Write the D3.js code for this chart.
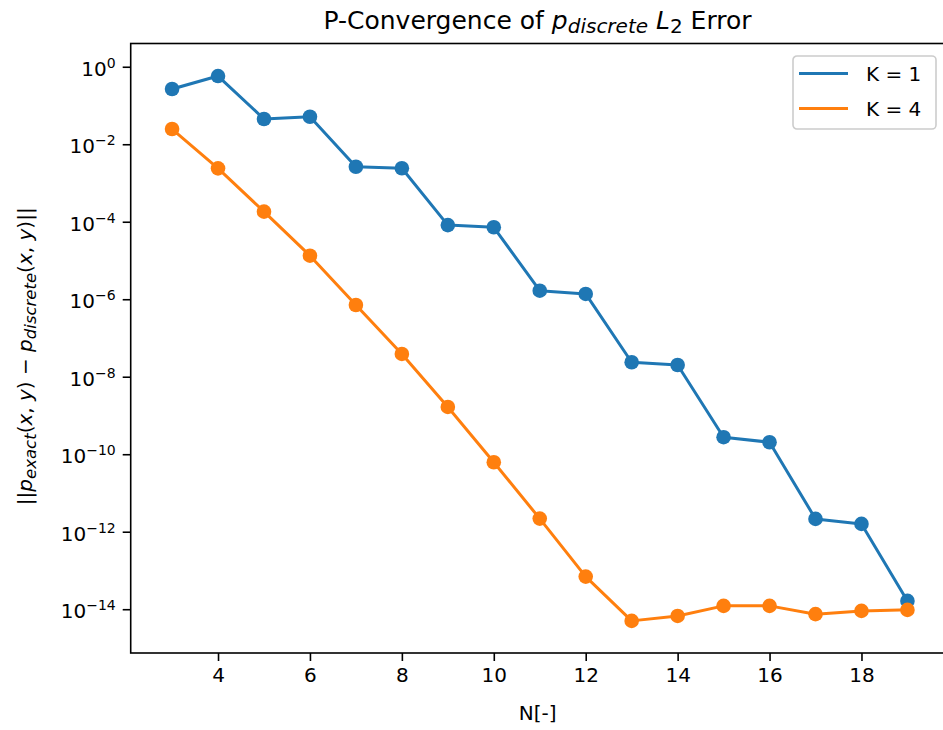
<!DOCTYPE html>
<html>
<head>
<meta charset="utf-8">
<script src="https://cdn.jsdelivr.net/npm/d3@7"></script>
<style>
  body { margin: 0; background: #fff; }
  svg { display: block; font-family: "DejaVu Sans", sans-serif; }
</style>
</head>
<body>
<svg id="chart" width="943" height="730"></svg>
<script>
const N = [3, 4, 5, 6, 7, 8, 9, 10, 11, 12, 13, 14, 15, 16, 17, 18, 19];
const errK1 = [0.266, 0.575, 4.48e-2, 5.13e-2, 2.63e-3, 2.4e-3, 8.2e-5, 7.2e-5,
  1.66e-6, 1.37e-6, 2.36e-8, 2.01e-8, 2.75e-10, 2.04e-10, 2.14e-12, 1.59e-12, 1.64e-14];
const errK4 = [2.47e-2, 2.39e-3, 1.82e-4, 1.33e-5, 7.1e-7, 3.87e-8, 1.66e-9, 6.2e-11,
  2.18e-12, 6.95e-14, 5.0e-15, 6.7e-15, 1.22e-14, 1.22e-14, 7.45e-15, 9.05e-15, 9.6e-15];
const xTicks = [4, 6, 8, 10, 12, 14, 16, 18];
const yTickExps = [0, -2, -4, -6, -8, -10, -12, -14];
const seriesNames = ["K = 1", "K = 4"];

const colors = ["#1f77b4", "#ff7f0e"];
const margin = { left: 130.7, top: 43.5, right: 948.8, bottom: 653 };

const svg = d3.select("#chart");

const x = d3.scaleLinear()
  .domain([2.1, 19.9])
  .range([margin.left, margin.right]);

const y = d3.scaleLog()
  .domain([Math.pow(10, 0.6), Math.pow(10, -15.13)])
  .range([margin.top, margin.bottom]);

// axes
const xAxis = svg.append("g")
  .attr("transform", `translate(0,${margin.bottom})`)
  .call(d3.axisBottom(x).tickValues(xTicks).tickSize(8).tickPadding(7).tickFormat(d3.format("d")));
xAxis.select(".domain").remove();
xAxis.selectAll(".tick line").attr("stroke", "#000").attr("stroke-width", 1.6);
xAxis.selectAll(".tick text").attr("font-size", 20).attr("fill", "#000")
  .attr("font-family", "DejaVu Sans");

const yAxis = svg.append("g")
  .attr("transform", `translate(${margin.left},0)`)
  .call(d3.axisLeft(y).tickValues(yTickExps.map(e => Math.pow(10, e))).tickSize(8).tickPadding(7).tickFormat(""));
yAxis.select(".domain").remove();
yAxis.selectAll(".tick line").attr("stroke", "#000").attr("stroke-width", 1.6);
yAxis.selectAll(".tick text")
  .attr("font-size", 20).attr("fill", "#000").attr("font-family", "DejaVu Sans")
  .attr("dy", "0.43em")
  .each(function(d) {
    const t = d3.select(this);
    const e = Math.round(Math.log10(d));
    t.text(null);
    t.append("tspan").text("10");
    t.append("tspan").attr("font-size", 14).attr("dy", -8)
      .text(e < 0 ? "\u2212" + (-e) : String(e));
  });

// series
const series = [errK1, errK4];
const line = d3.line().x((d, i) => x(N[i])).y(d => y(d));
series.forEach((vals, k) => {
  const g = svg.append("g");
  g.append("path")
    .datum(vals)
    .attr("d", line)
    .attr("fill", "none")
    .attr("stroke", colors[k])
    .attr("stroke-width", 3)
    .attr("stroke-linejoin", "round")
    .attr("stroke-linecap", "square");
  g.selectAll("circle")
    .data(vals)
    .join("circle")
    .attr("cx", (d, i) => x(N[i]))
    .attr("cy", d => y(d))
    .attr("r", 7.3)
    .attr("fill", colors[k]);
});

// frame
svg.append("rect")
  .attr("x", margin.left).attr("y", margin.top)
  .attr("width", margin.right - margin.left)
  .attr("height", margin.bottom - margin.top)
  .attr("fill", "none").attr("stroke", "#000").attr("stroke-width", 1.6);

// title
const title = svg.append("text")
  .attr("x", 537.5)
  .attr("y", 28.5)
  .attr("text-anchor", "middle")
  .attr("font-size", 25)
  .attr("fill", "#000");
title.append("tspan").text("P-Convergence of ");
title.append("tspan").attr("font-style", "italic").text("p");
title.append("tspan").attr("font-style", "italic").attr("font-size", 20).attr("dy", 4).text("discrete");
title.append("tspan").attr("font-style", "italic").attr("dy", -4).text(" L");
title.append("tspan").attr("font-size", 20).attr("dy", 4).text("2");
title.append("tspan").attr("dy", -4).text(" Error");

// x label
svg.append("text")
  .attr("x", (margin.left + margin.right) / 2 - 2)
  .attr("y", 720)
  .attr("text-anchor", "middle")
  .attr("font-size", 20)
  .attr("fill", "#000")
  .text("N[-]");

// y label
const yl = svg.append("text")
  .attr("transform", `translate(32,${(margin.top + margin.bottom) / 2 + 8}) rotate(-90)`)
  .attr("text-anchor", "middle")
  .attr("font-size", 20)
  .attr("fill", "#000");
yl.append("tspan").text("||");
yl.append("tspan").attr("font-style", "italic").text("p");
yl.append("tspan").attr("font-style", "italic").attr("font-size", 16.5).attr("dy", 4).text("exact");
yl.append("tspan").attr("dy", -4).text("(");
yl.append("tspan").attr("font-style", "italic").text("x");
yl.append("tspan").text(", ");
yl.append("tspan").attr("font-style", "italic").text("y");
yl.append("tspan").text(") \u2212 ");
yl.append("tspan").attr("font-style", "italic").text("p");
yl.append("tspan").attr("font-style", "italic").attr("font-size", 16.5).attr("dy", 4).text("discrete");
yl.append("tspan").attr("dy", -4).text("(");
yl.append("tspan").attr("font-style", "italic").text("x");
yl.append("tspan").text(", ");
yl.append("tspan").attr("font-style", "italic").text("y");
yl.append("tspan").text(")||");

// legend
const lg = svg.append("g").attr("transform", "translate(793,56)");
lg.append("rect")
  .attr("width", 143).attr("height", 73)
  .attr("rx", 4)
  .attr("fill", "#fff").attr("fill-opacity", 0.8)
  .attr("stroke", "#ccc").attr("stroke-width", 1.6);
seriesNames.forEach((name, k) => {
  const yy = 17.5 + k * 35;
  lg.append("line")
    .attr("x1", 6).attr("x2", 55)
    .attr("y1", yy).attr("y2", yy)
    .attr("stroke", colors[k]).attr("stroke-width", 3);
  lg.append("text")
    .attr("x", 73).attr("y", yy + 7)
    .attr("font-size", 20).attr("fill", "#000")
    .text(name);
});
</script>
</body>
</html>
